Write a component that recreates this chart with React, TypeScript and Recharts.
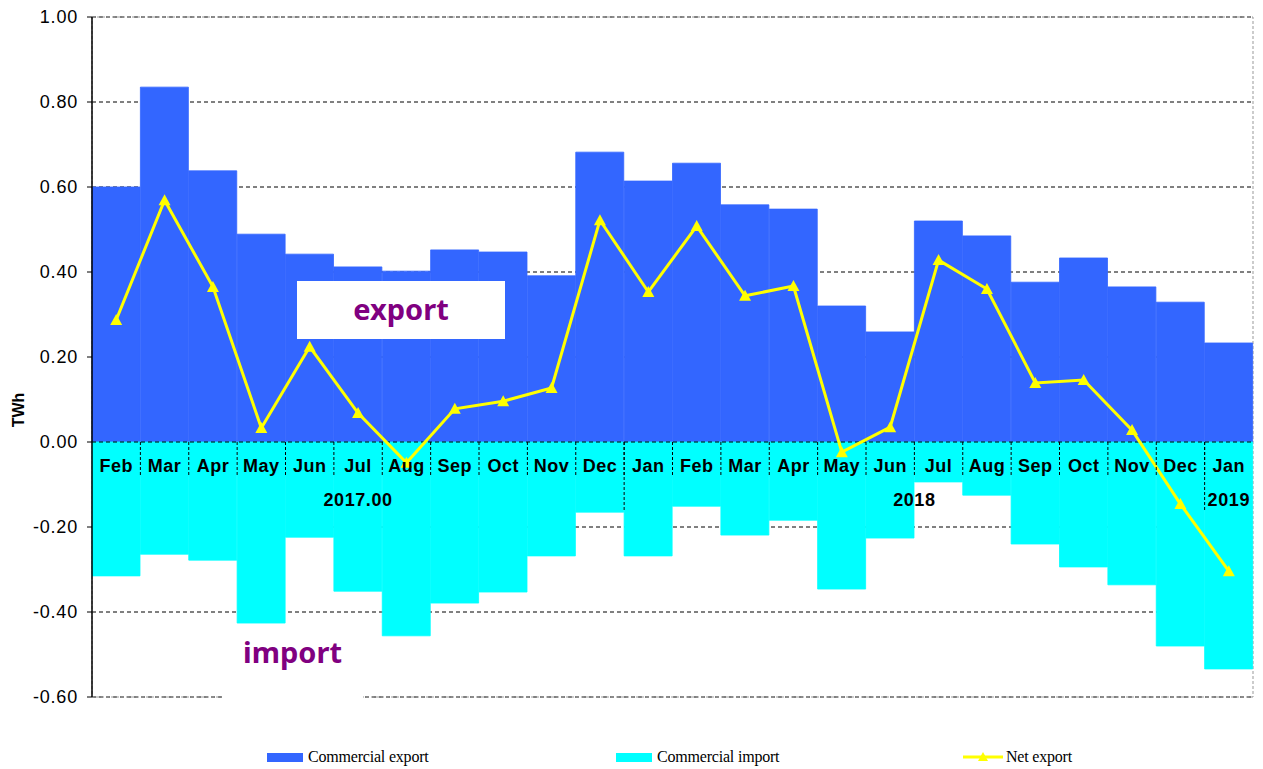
import {
  ComposedChart,
  Bar,
  Line,
  XAxis,
  YAxis,
  CartesianGrid,
  ReferenceLine,
  ReferenceArea,
} from "recharts";

const months = [
  "Feb", "Mar", "Apr", "May", "Jun", "Jul", "Aug", "Sep", "Oct", "Nov", "Dec",
  "Jan", "Feb", "Mar", "Apr", "May", "Jun", "Jul", "Aug", "Sep", "Oct", "Nov", "Dec",
  "Jan",
];
const years = ["2017.00", "2018", "2019"];
const yearSpans = [11, 12, 1];

const exportVals = [
  0.6, 0.835, 0.638, 0.489, 0.442, 0.412, 0.402, 0.452, 0.447, 0.391, 0.682,
  0.614, 0.656, 0.558, 0.548, 0.32, 0.259, 0.52, 0.485, 0.376, 0.433, 0.365, 0.329,
  0.233,
];
const importVals = [
  -0.315, -0.264, -0.278, -0.426, -0.224, -0.351, -0.456, -0.379, -0.353, -0.268, -0.165,
  -0.268, -0.151, -0.219, -0.184, -0.346, -0.226, -0.094, -0.125, -0.24, -0.294, -0.336, -0.48,
  -0.534,
];
const netVals = [
  0.287, 0.569, 0.365, 0.033, 0.224, 0.068, -0.049, 0.078, 0.096, 0.127, 0.522,
  0.353, 0.508, 0.344, 0.367, -0.024, 0.035, 0.428, 0.36, 0.139, 0.146, 0.028, -0.146,
  -0.304,
];
const yTicks = [-0.6, -0.4, -0.2, 0, 0.2, 0.4, 0.6, 0.8, 1.0];

const data = months.map((m, i) => ({
  key: i,
  month: m,
  exp: exportVals[i],
  imp: importVals[i],
  net: netVals[i],
}));

// layout
const W = 1263;
const H = 769;
const TOP = 17;
const BOTTOM = 72;
const XAXIS_H = 30;
const RIGHT = 10;
const YAXIS_W = 92;
const Y_MIN = -0.6;
const Y_MAX = 1.0;
const PLOT_W = W - YAXIS_W - RIGHT;
const PLOT_H = H - TOP - BOTTOM;
const BAND = PLOT_W / months.length;
const ZERO_Y = TOP + (PLOT_H * Y_MAX) / (Y_MAX - Y_MIN);

const yearStarts: number[] = [];
yearSpans.reduce((acc, s) => {
  yearStarts.push(acc);
  return acc + s;
}, 0);

const sans = "'Liberation Sans', Arial, sans-serif";

const MonthTick = (props: any) => {
  const { x, index } = props;
  const left = x - BAND / 2;
  const yi = yearStarts.indexOf(index);
  return (
    <g>
      {index > 0 && (
        <line x1={left} x2={left} y1={ZERO_Y} y2={ZERO_Y + 35} stroke="#000" strokeDasharray="3 2" />
      )}
      <text
        x={x}
        y={ZERO_Y + 30}
        textAnchor="middle"
        fontFamily={sans}
        fontWeight="bold"
        fontSize={18}
        letterSpacing={0.5}
        fill="#000"
      >
        {months[index]}
      </text>
      {yi >= 0 && index > 0 && (
        <line x1={left} x2={left} y1={ZERO_Y} y2={ZERO_Y + 68} stroke="#000" strokeDasharray="3 2" />
      )}
      {yi >= 0 && (
        <text
          x={left + (yearSpans[yi] * BAND) / 2}
          y={ZERO_Y + 64}
          textAnchor="middle"
          fontFamily={sans}
          fontWeight="bold"
          fontSize={18}
          letterSpacing={0.6}
          fill="#000"
        >
          {years[yi]}
        </text>
      )}
    </g>
  );
};

const Tri = (props: any) => {
  const { cx, cy } = props;
  if (cx == null || cy == null) return null;
  return <path d={`M${cx},${cy - 6} L${cx + 6},${cy + 5} L${cx - 6},${cy + 5} Z`} fill="#FFFF00" />;
};

const legendItems = [
  { label: "Commercial export", color: "#3366FF", left: 267, kind: "bar" },
  { label: "Commercial import", color: "#00FFFF", left: 616, kind: "bar" },
  { label: "Net export", color: "#FFFF00", left: 963, kind: "line" },
];

export default function App() {
  return (
    <div style={{ position: "absolute", left: 0, top: 0, width: W, height: H, background: "#fff" }}>
      <ComposedChart
        width={W}
        height={H}
        data={data}
        stackOffset="sign"
        barCategoryGap={0}
        barGap={0}
        margin={{ top: TOP, right: RIGHT, bottom: BOTTOM - XAXIS_H, left: 0 }}
      >
        <CartesianGrid vertical={false} stroke="#000" strokeDasharray="4 3" />
        <Bar dataKey="exp" stackId="a" fill="#3366FF" stroke="#3366FF" strokeWidth={0.8} isAnimationActive={false} />
        <Bar dataKey="imp" stackId="a" fill="#00FFFF" stroke="#00FFFF" strokeWidth={0.8} isAnimationActive={false} />
        <XAxis
          dataKey="key"
          height={XAXIS_H}
          axisLine={false}
          tickLine={false}
          interval={0}
          tick={<MonthTick />}
        />
        <YAxis
          width={YAXIS_W}
          domain={[Y_MIN, Y_MAX]}
          ticks={yTicks}
          interval={0}
          allowDataOverflow
          tickFormatter={(v: number) => v.toFixed(2)}
          tick={{ fontSize: 18, fill: "#000", fontFamily: sans, letterSpacing: 0.8 }}
          tickSize={5}
          tickMargin={9}
          axisLine={{ stroke: "#000", strokeWidth: 1.5 }}
          tickLine={{ stroke: "#000" }}
          label={({ viewBox }: any) => (
            <text
              x={viewBox.x + 24}
              y={410}
              transform={`rotate(-90 ${viewBox.x + 24} 410)`}
              textAnchor="middle"
              fontFamily={sans}
              fontWeight="bold"
              fontSize={16}
              fill="#000"
            >
              TWh
            </text>
          )}
        />
        <ReferenceLine y={0} stroke="#000" strokeDasharray="4 3" />
        <ReferenceArea y1={Y_MIN} y2={Y_MAX} fill="none" stroke="#999" strokeDasharray="3 2" />
        <Line
          dataKey="net"
          stroke="#FFFF00"
          strokeWidth={3}
          dot={<Tri />}
          activeDot={false}
          isAnimationActive={false}
        />
      </ComposedChart>

      <div
        style={{
          position: "absolute",
          left: 297,
          top: 281,
          width: 208,
          height: 58,
          background: "#fff",
          color: "#800080",
          fontFamily: "'Noto Sans', sans-serif",
          fontWeight: "bold",
          fontSize: 29,
          display: "flex",
          alignItems: "center",
          justifyContent: "center",
          paddingBottom: 4,
          boxSizing: "border-box",
        }}
      >
        export
      </div>
      <div
        style={{
          position: "absolute",
          left: 222,
          top: 628,
          width: 141,
          height: 72,
          background: "#fff",
          color: "#800080",
          fontFamily: "'Noto Sans', sans-serif",
          fontWeight: "bold",
          fontSize: 29,
          display: "flex",
          alignItems: "center",
          justifyContent: "center",
          paddingBottom: 26,
          boxSizing: "border-box",
        }}
      >
        import
      </div>

      {legendItems.map((it) => (
        <div
          key={it.label}
          style={{
            position: "absolute",
            left: it.left,
            top: 747,
            height: 20,
            display: "flex",
            alignItems: "center",
            fontFamily: "'Liberation Serif', 'Times New Roman', serif",
            fontSize: 16,
            letterSpacing: -0.2,
            color: "#000",
          }}
        >
          {it.kind === "bar" ? (
            <span style={{ display: "inline-block", width: 36, height: 9, background: it.color, marginRight: 5 }} />
          ) : (
            <svg width={40} height={12} style={{ marginRight: 3 }}>
              <line x1={0} x2={40} y1={6} y2={6} stroke={it.color} strokeWidth={3} />
              <path d="M20,1 L25,10 L15,10 Z" fill={it.color} />
            </svg>
          )}
          {it.label}
        </div>
      ))}
    </div>
  );
}
